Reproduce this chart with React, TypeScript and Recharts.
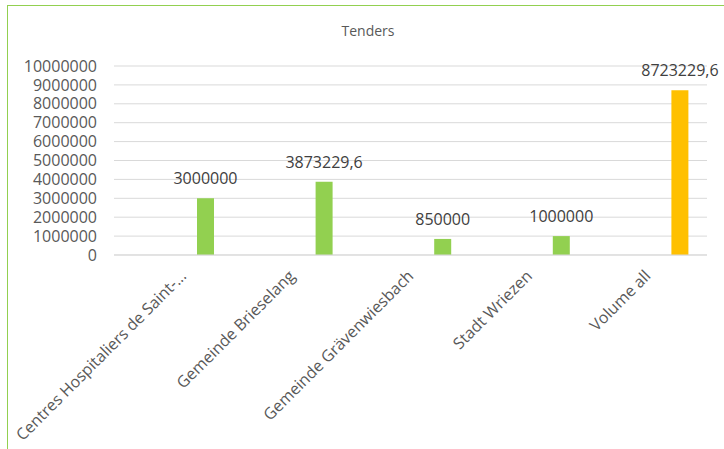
import { Bar, BarChart, CartesianGrid, Cell, LabelList, XAxis, YAxis } from 'recharts'

const categories = [
  'Centres Hospitaliers de Saint-...',
  'Gemeinde Brieselang',
  'Gemeinde Grävenwiesbach',
  'Stadt Wriezen',
  'Volume all',
]
const tenderValues = [3000000, 3873229.6, 850000, 1000000, 8723229.6]
const barColors = ['#92D050', '#92D050', '#92D050', '#92D050', '#FFC000']
const yTicks = [0, 1000000, 2000000, 3000000, 4000000, 5000000, 6000000, 7000000, 8000000, 9000000, 10000000]

const FONT = '"Open Sans", sans-serif'

const chartData = categories.map((name, i) => ({ name, value: tenderValues[i] }))

const fmt = (v: unknown) => String(v).replace('.', ',')

// the long first label gets nudged right so it stays inside the frame, like Excel does
function AngledTick({ x, y, payload, index }: any) {
  const nudge = index === 0 ? 10 : 0
  return (
    <g transform={`translate(${x + 4 + nudge},${y + 14})`}>
      <text
        x={0}
        y={0}
        textAnchor="end"
        fill="#595959"
        fontSize={16}
        fontFamily={FONT}
        transform="rotate(-45)"
      >
        {payload.value}
      </text>
    </g>
  )
}

export default function App() {
  return (
    <div style={{ position: 'fixed', left: 0, top: 0, width: 724, height: 449, overflow: 'hidden', background: '#fff' }}>
      <div
        style={{
          position: 'absolute',
          left: 7,
          top: 5,
          width: 740,
          height: 470,
          borderLeft: '1px solid #92D050',
          borderTop: '1px solid #92D050',
        }}
      >
        <div
          style={{
            position: 'absolute',
            top: 16,
            left: 0,
            width: 720,
            textAlign: 'center',
            fontFamily: FONT,
            fontSize: 14,
            lineHeight: '18px',
            color: '#595959',
          }}
        >
          Tenders
        </div>
        <BarChart
          width={716}
          height={443}
          data={chartData}
          barGap={48}
          margin={{ top: 60, right: 17, left: 0, bottom: 10 }}
        >
          <CartesianGrid vertical={false} stroke="#D9D9D9" />
          <XAxis
            dataKey="name"
            interval={0}
            height={184}
            tickLine={false}
            axisLine={{ stroke: '#D9D9D9' }}
            tick={<AngledTick />}
          />
          <YAxis
            domain={[0, 10000000]}
            ticks={yTicks}
            interval={0}
            width={106}
            axisLine={false}
            tickLine={false}
            tickMargin={11}
            tick={{ fill: '#595959', fontSize: 16, fontFamily: FONT }}
          />
          <Bar dataKey="slot" barSize={17} fill="none" isAnimationActive={false} />
          <Bar dataKey="value" barSize={17} isAnimationActive={false}>
            {chartData.map((_, i) => (
              <Cell key={i} fill={barColors[i]} />
            ))}
            <LabelList
              dataKey="value"
              position="top"
              offset={14}
              formatter={fmt}
              fill="#404040"
              fontSize={16}
              fontFamily={FONT}
            />
          </Bar>
        </BarChart>
      </div>
    </div>
  )
}
